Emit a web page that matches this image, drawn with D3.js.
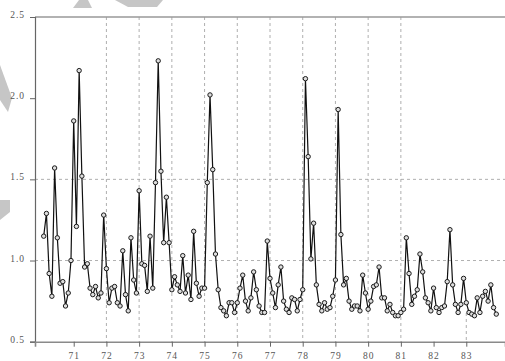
<!DOCTYPE html>
<html>
<head>
<meta charset="utf-8">
<script src="https://cdn.jsdelivr.net/npm/d3@7/dist/d3.min.js"></script>
<style>
  html, body { margin: 0; padding: 0; background: #fff; }
  svg { display: block; }
</style>
</head>
<body>
<svg id="chart" width="505" height="361"></svg>
<script>
// Monthly series, starting February 1970 (t = 1970 + 1/12), ending December 1983
const startYear = 1970;
const startOffsetMonths = 1;
const values = [
  1.15, 1.29, 0.92, 0.78, 1.57, 1.14, 0.86, 0.87, 0.72, 0.80, 1.00, 1.86,
  1.21, 2.17, 1.52, 0.96, 0.98, 0.83, 0.79, 0.84, 0.77, 0.80, 1.28, 0.95,
  0.74, 0.83, 0.84, 0.74, 0.72, 1.06, 0.79, 0.69, 1.14, 0.88, 0.80, 1.43,
  0.98, 0.97, 0.81, 1.15, 0.83, 1.48, 2.23, 1.55, 1.11, 1.39, 1.11, 0.82,
  0.90, 0.85, 0.81, 1.03, 0.80, 0.91, 0.76, 1.18, 0.86, 0.78, 0.83, 0.83,
  1.48, 2.02, 1.56, 1.04, 0.82, 0.71, 0.69, 0.66, 0.74, 0.74, 0.68, 0.74,
  0.83, 0.91, 0.75, 0.69, 0.77, 0.93, 0.82, 0.72, 0.68, 0.68, 1.12, 0.89,
  0.80, 0.71, 0.85, 0.96, 0.75, 0.70, 0.68, 0.77, 0.76, 0.69, 0.76, 0.82,
  2.12, 1.64, 1.01, 1.23, 0.85, 0.73, 0.69, 0.74, 0.70, 0.71, 0.78, 0.88,
  1.93, 1.16, 0.85, 0.89, 0.75, 0.70, 0.72, 0.72, 0.69, 0.91, 0.80, 0.70,
  0.75, 0.84, 0.85, 0.96, 0.77, 0.77, 0.69, 0.73, 0.68, 0.66, 0.66, 0.68,
  0.70, 1.14, 0.92, 0.73, 0.78, 0.82, 1.04, 0.93, 0.77, 0.74, 0.69, 0.83,
  0.71, 0.68, 0.71, 0.72, 0.87, 1.19, 0.85, 0.73, 0.68, 0.73, 0.89, 0.74,
  0.68, 0.67, 0.66, 0.77, 0.68, 0.78, 0.81, 0.75, 0.85, 0.71, 0.67
];
const xTickValues = [71, 72, 73, 74, 75, 76, 77, 78, 79, 80, 81, 82, 83];
const xTickLabels = ["71", "72", "73", "74", "75", "76", "77", "78", "79", "80", "81", "82", "83"];
const yTickValues = [0.5, 1.0, 1.5, 2.0, 2.5];
const yTickLabels = ["0.5", "1.0", "1.5", "2.0", "2.5"];
const vGridFull = [72, 73, 74, 75, 76, 77, 78, 79, 80, 81];
const vGridPartial = [83];
const hGrid = [1.0, 1.5];

const data = values.map((v, i) => ({ t: (startYear - 1900) + (i + startOffsetMonths) / 12, v }));

const svg = d3.select("#chart");
const L = 35, R = 505, T = 17, B = 341.7;
const pad = 0.183;
const x = d3.scaleLinear().domain([70 - pad, 84 + pad]).range([L, R]);
const y = d3.scaleLinear().domain([0.5, 2.5]).range([B, T]);

// faint watermark fragments seen in the reference
const marks = [
  [[73,8],[79,0],[88,0],[92,8]],
  [[115,0],[163,0],[157,7],[128,7]],
  [[0,65],[12,98],[8,112],[0,100]],
  [[0,200],[10,200],[10,212],[0,220]]
];
svg.append("g").selectAll("polygon").data(marks).join("polygon")
  .attr("points", d => d.map(p => p.join(",")).join(" "))
  .attr("fill", "#c6c6c6");

// grid
const grid = svg.append("g").attr("stroke", "#9a9a9a").attr("stroke-width", 0.8).attr("stroke-dasharray", "3,3");
grid.selectAll("line.v").data(vGridFull).join("line").attr("class", "v")
  .attr("x1", d => x(d)).attr("x2", d => x(d)).attr("y1", T).attr("y2", B);
grid.selectAll("line.vp").data(vGridPartial).join("line").attr("class", "vp")
  .attr("x1", d => x(d)).attr("x2", d => x(d)).attr("y1", 313).attr("y2", B);
grid.selectAll("line.h").data(hGrid).join("line").attr("class", "h")
  .attr("x1", L).attr("x2", R).attr("y1", d => y(d)).attr("y2", d => y(d));

// top frame line
svg.append("line").attr("x1", L).attr("x2", R).attr("y1", T).attr("y2", T)
  .attr("stroke", "#999").attr("stroke-width", 1.4);

// axes
const fontFam = "'Liberation Serif', 'DejaVu Serif', serif";
const yAxis = svg.append("g").attr("transform", `translate(${L},0)`)
  .call(d3.axisLeft(y).tickValues(yTickValues).tickSize(5).tickPadding(5)
    .tickFormat((d, i) => yTickLabels[i]));
yAxis.select(".domain").attr("stroke", "#666").attr("stroke-width", 1.2);
yAxis.selectAll(".tick line").attr("stroke", "#666");
yAxis.selectAll("text").attr("dy", "0.05em").attr("font-family", fontFam)
  .attr("font-size", 9.5).attr("letter-spacing", "1px").attr("fill", "#555");

const xAxis = svg.append("g").attr("transform", `translate(0,${B})`)
  .call(d3.axisBottom(x).tickValues(xTickValues).tickSize(5).tickPadding(6)
    .tickFormat((d, i) => xTickLabels[i]));
xAxis.select(".domain").attr("stroke", "#8a8a8a").attr("stroke-width", 1.6);
xAxis.selectAll(".tick line").attr("stroke", "#666");
xAxis.selectAll("text").attr("font-family", fontFam)
  .attr("font-size", 9.5).attr("letter-spacing", "1px").attr("fill", "#555");

// series
const line = d3.line().x(d => x(d.t)).y(d => y(d.v));
svg.append("path").datum(data).attr("d", line)
  .attr("fill", "none").attr("stroke", "#111").attr("stroke-width", 1.2);
svg.append("g").selectAll("circle").data(data).join("circle")
  .attr("cx", d => x(d.t)).attr("cy", d => y(d.v)).attr("r", 2.2)
  .attr("fill", "#dedede").attr("stroke", "#1a1a1a").attr("stroke-width", 1);
</script>
</body>
</html>
